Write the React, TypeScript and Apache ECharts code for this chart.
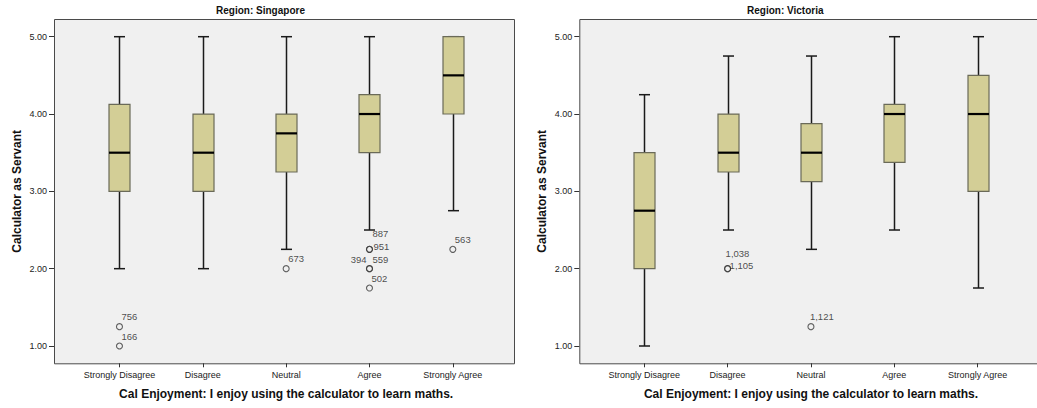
import React, { useEffect, useRef } from "react";
import * as echarts from "echarts";

// Response categories on the x axis
const categories = ["Strongly Disagree", "Disagree", "Neutral", "Agree", "Strongly Agree"];
const yTicks = [1, 2, 3, 4, 5];

// Singapore five-number summaries per category
const singaporeMin = [2, 2, 2.25, 2.5, 2.75];
const singaporeQ1 = [3, 3, 3.25, 3.5, 4];
const singaporeMedian = [3.5, 3.5, 3.75, 4, 4.5];
const singaporeQ3 = [4.125, 4, 4, 4.25, 5];
const singaporeMax = [5, 5, 5, 5, 5];

// Victoria five-number summaries per category
const victoriaMin = [1, 2.5, 2.25, 2.5, 1.75];
const victoriaQ1 = [2, 3.25, 3.125, 3.375, 3];
const victoriaMedian = [2.75, 3.5, 3.5, 4, 4];
const victoriaQ3 = [3.5, 4, 3.875, 4.125, 4.5];
const victoriaMax = [4.25, 4.75, 4.75, 5, 5];

// Outlying cases: [category, value, case id]
const singaporeOutliers: [string, number, string][] = [
  ["Strongly Disagree", 1.25, "756"],
  ["Strongly Disagree", 1.0, "166"],
  ["Neutral", 2.0, "673"],
  ["Agree", 2.25, "887"],
  ["Agree", 2.25, "951"],
  ["Agree", 2.0, "394"],
  ["Agree", 2.0, "559"],
  ["Agree", 1.75, "502"],
  ["Strongly Agree", 2.25, "563"],
];
const victoriaOutliers: [string, number, string][] = [
  ["Disagree", 2.0, "1,038"],
  ["Disagree", 2.0, "1,105"],
  ["Neutral", 1.25, "1,121"],
];

// Where each case label sits relative to its circle
const labelPlacement: Record<string, { offset: [number, number]; align?: string }> = {
  "887": { offset: [3, -16] },
  "951": { offset: [4, -3] },
  "394": { offset: [-3, -9], align: "right" },
  "559": { offset: [3, -9] },
  "1,038": { offset: [-2, -15] },
  "1,105": { offset: [2, -3] },
  "1,121": { offset: [-1, -10] },
};

const FONT = "'Liberation Sans', Arial, sans-serif";
const BOX_FILL = "#d3ce96";
const BOX_STROKE = "#6a6a58";
const INK = "#1a1a1a";

function boxData(mn: number[], q1: number[], md: number[], q3: number[], mx: number[]) {
  return categories.map((_, i) => [i, mn[i], q1[i], md[i], q3[i], mx[i]]);
}

function renderBox(_params: any, api: any) {
  const idx = api.value(0);
  const pMin = api.coord([idx, api.value(1)]);
  const pQ1 = api.coord([idx, api.value(2)]);
  const pMed = api.coord([idx, api.value(3)]);
  const pQ3 = api.coord([idx, api.value(4)]);
  const pMax = api.coord([idx, api.value(5)]);
  const cx = Math.round(pMed[0]) + 0.5;
  const half = 10.5;
  const cap = 5.5;
  const whisker = { stroke: INK, lineWidth: 1.5 };
  return {
    type: "group",
    children: [
      { type: "line", shape: { x1: cx, y1: pMax[1], x2: cx, y2: pQ3[1] }, style: whisker },
      { type: "line", shape: { x1: cx, y1: pQ1[1], x2: cx, y2: pMin[1] }, style: whisker },
      { type: "line", shape: { x1: cx - cap, y1: pMax[1], x2: cx + cap, y2: pMax[1] }, style: whisker },
      { type: "line", shape: { x1: cx - cap, y1: pMin[1], x2: cx + cap, y2: pMin[1] }, style: whisker },
      {
        type: "rect",
        shape: { x: cx - half, y: pQ3[1], width: half * 2, height: pQ1[1] - pQ3[1] },
        style: { fill: BOX_FILL, stroke: BOX_STROKE, lineWidth: 1.2 },
      },
      {
        type: "line",
        shape: { x1: cx - half, y1: pMed[1], x2: cx + half, y2: pMed[1] },
        style: { stroke: "#000", lineWidth: 2.2 },
      },
    ],
  };
}

function outlierData(list: [string, number, string][]) {
  return list.map(([cat, v, id]) => {
    const place = labelPlacement[id] || { offset: [2, -10] };
    return {
      value: [cat, v],
      name: id,
      label: { offset: place.offset, align: place.align || "left" },
    };
  });
}

// Panel geometry (frame and inner plotting grid)
const panels = [
  { frameX: 54, gridLeft: 77.8, title: "Region: Singapore", titleX: 260.5 },
  { frameX: 579.3, gridLeft: 602.6, title: "Region: Victoria", titleX: 785.3 },
];
const FRAME_TOP = 19;
const FRAME_BOTTOM = 363.3;
const FRAME_W = 460;
const GRID_W = 416.7;
const GRID_TOP = 36.7;
const GRID_BOTTOM_Y = 346;

export default function App() {
  const ref = useRef<HTMLDivElement>(null);

  useEffect(() => {
    if (!ref.current) return;
    const chart = echarts.init(ref.current, undefined, { renderer: "svg" });

    const grids = panels.map((p) => ({
      left: p.gridLeft,
      width: GRID_W,
      top: GRID_TOP,
      height: GRID_BOTTOM_Y - GRID_TOP,
    }));

    const xAxes = panels.map((_, i) => ({
      type: "category",
      gridIndex: i,
      data: categories,
      offset: FRAME_BOTTOM - GRID_BOTTOM_Y,
      axisLine: { show: false },
      axisTick: { show: true, alignWithLabel: true, length: 4, lineStyle: { color: "#333" } },
      axisLabel: { fontSize: 9, color: "#222", fontFamily: FONT, margin: 7, interval: 0 },
      name: "Cal Enjoyment: I enjoy using the calculator to learn maths.",
      nameLocation: "middle",
      nameGap: 25,
      nameTextStyle: { fontSize: 12, fontWeight: "bold", color: "#111", fontFamily: FONT },
      splitLine: { show: false },
    }));

    const yAxes = panels.map((p, i) => ({
      type: "value",
      gridIndex: i,
      min: yTicks[0],
      max: yTicks[yTicks.length - 1],
      interval: 1,
      offset: p.gridLeft - p.frameX,
      axisLine: { show: false },
      axisTick: { show: true, length: 5, lineStyle: { color: "#333" } },
      axisLabel: {
        fontSize: 9,
        color: "#222",
        fontFamily: FONT,
        margin: 7,
        formatter: (v: number) => v.toFixed(2),
      },
      splitLine: { show: false },
      name: "Calculator as Servant",
      nameLocation: "middle",
      nameGap: 31,
      nameTextStyle: { fontSize: 12, fontWeight: "bold", color: "#111", fontFamily: FONT },
    }));

    const graphic: any[] = [];
    panels.forEach((p) => {
      graphic.push({
        type: "rect",
        z: -10,
        shape: { x: p.frameX + 0.5, y: FRAME_TOP + 0.5, width: FRAME_W, height: FRAME_BOTTOM - FRAME_TOP },
        style: { fill: "#f0f0f0", stroke: "#4a4a4a", lineWidth: 1 },
        silent: true,
      });
      graphic.push({
        type: "text",
        x: p.titleX,
        y: 10,
        style: {
          text: p.title,
          fontSize: 10,
          fontWeight: "bold",
          fontFamily: FONT,
          fill: "#111",
          textAlign: "center",
          textVerticalAlign: "middle",
        },
      });
    });

    const outlierSeries = (list: [string, number, string][], i: number) => ({
      type: "scatter",
      xAxisIndex: i,
      yAxisIndex: i,
      symbol: "circle",
      symbolSize: 6,
      itemStyle: { color: "rgba(0,0,0,0)", borderColor: "#3a3a3a", borderWidth: 1.1 },
      label: {
        show: true,
        formatter: "{b}",
        position: "inside",
        verticalAlign: "middle",
        fontSize: 9.5,
        color: "#222",
        fontFamily: FONT,
      },
      data: outlierData(list),
      z: 5,
    });

    chart.setOption({
      animation: false,
      backgroundColor: "#ffffff",
      textStyle: { fontFamily: FONT },
      grid: grids,
      xAxis: xAxes,
      yAxis: yAxes,
      graphic,
      series: [
        {
          type: "custom",
          xAxisIndex: 0,
          yAxisIndex: 0,
          renderItem: renderBox,
          encode: { x: 0, y: [1, 2, 3, 4, 5] },
          data: boxData(singaporeMin, singaporeQ1, singaporeMedian, singaporeQ3, singaporeMax),
          z: 3,
        },
        {
          type: "custom",
          xAxisIndex: 1,
          yAxisIndex: 1,
          renderItem: renderBox,
          encode: { x: 0, y: [1, 2, 3, 4, 5] },
          data: boxData(victoriaMin, victoriaQ1, victoriaMedian, victoriaQ3, victoriaMax),
          z: 3,
        },
        outlierSeries(singaporeOutliers, 0),
        outlierSeries(victoriaOutliers, 1),
      ],
    });

    return () => chart.dispose();
  }, []);

  return (
    <div
      ref={ref}
      style={{ position: "fixed", left: 0, top: 0, width: 1037, height: 408, background: "#fff" }}
    />
  );
}
